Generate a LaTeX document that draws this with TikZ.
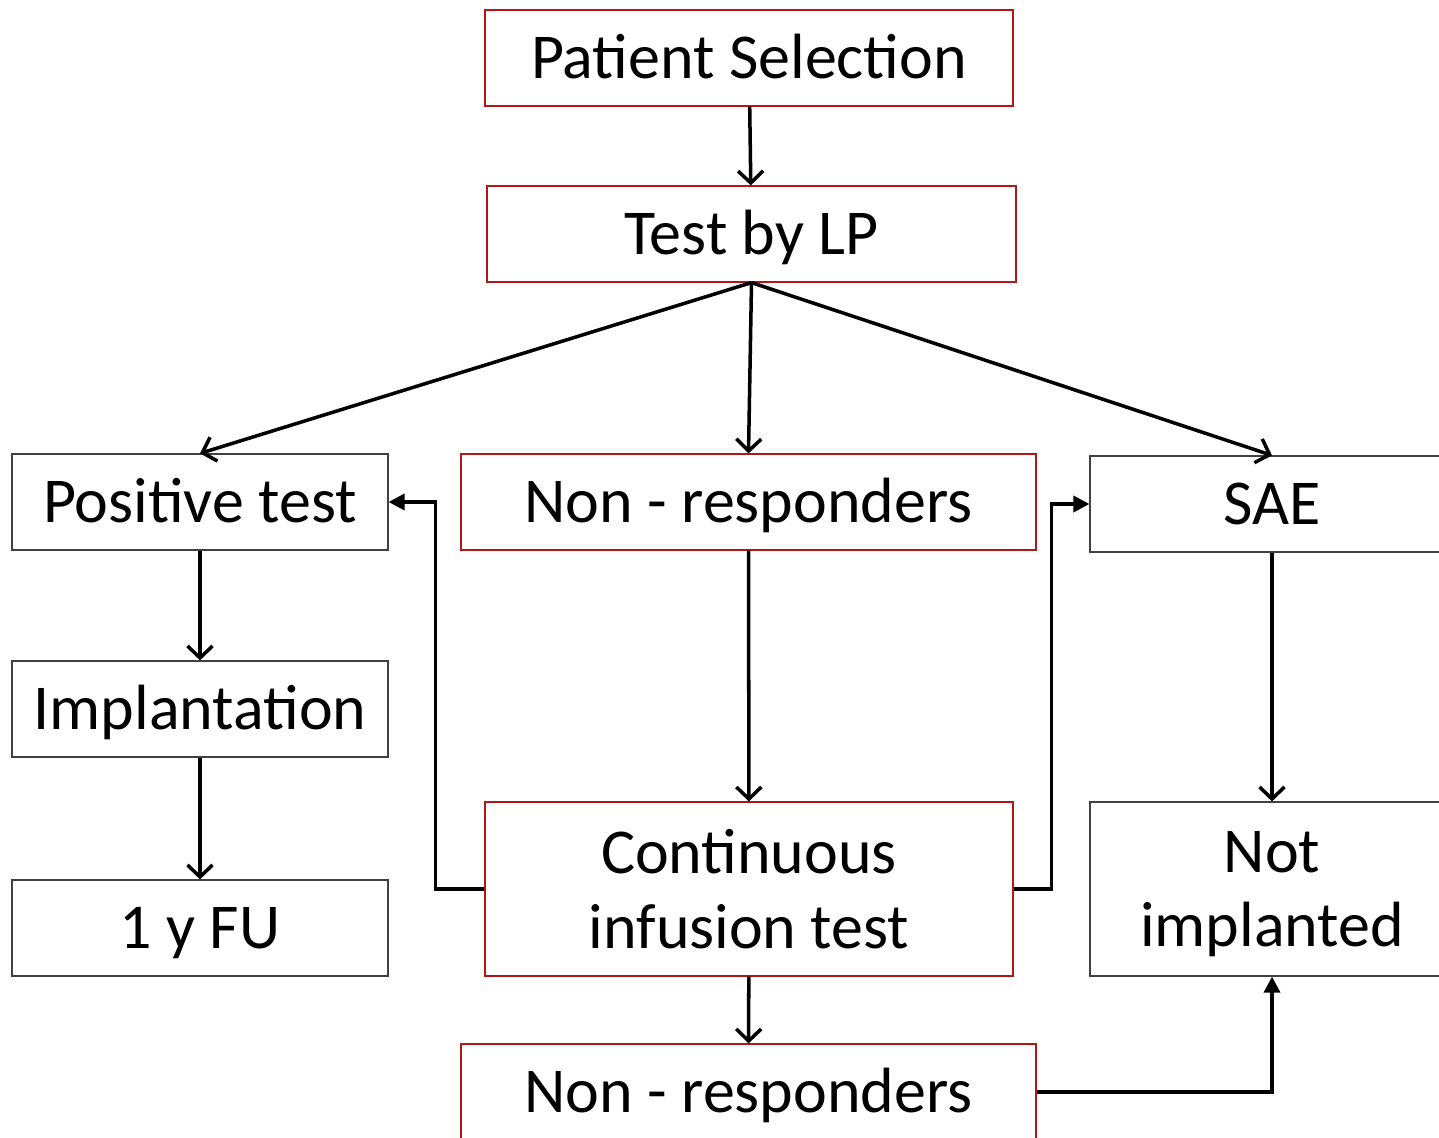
\documentclass[tikz,border=0pt]{standalone}
\usepackage{fontspec}
\setmainfont{Carlito}
\usetikzlibrary{arrows.meta, positioning}

\definecolor{boxred}{RGB}{176,24,24}
\definecolor{boxgray}{RGB}{64,64,64}

\begin{document}
\begin{tikzpicture}[
  x=0.02cm, y=-0.02cm,
  every node/.style={font=\fontsize{36.4}{42.5}\selectfont, inner sep=0pt, fill=white},
  oneline/.style={text height=23.4pt, text depth=0pt},
  twoline/.style={align=center},
  redbox/.style={draw=boxred, line width=0.7pt},
  graybox/.style={draw=boxgray, line width=0.7pt},
  arr/.style={draw, line width=2pt, -{Straight Barb[length=0.24cm, width=0.5cm, line width=2pt]}},
  elb/.style={draw, line width=2pt, -{Triangle[length=0.32cm, width=0.32cm]}}
]
\useasboundingbox (0,0) rectangle (1439,1138);
\clip (0,0) rectangle (1439,1138);

% top of the flow
\node[redbox, oneline, minimum width=10.56cm, minimum height=1.92cm] (select) at (749,58) {Patient Selection};
\node[redbox, oneline, minimum width=10.58cm, minimum height=1.92cm] (lp) at (751.5,234) {Test by LP};

% three outcomes
\node[graybox, oneline, minimum width=7.52cm, minimum height=1.92cm] (positive) at (200,502) {Positive test};
\node[redbox, oneline, minimum width=11.5cm, minimum height=1.92cm] (nonresp) at (748.5,502) {Non - responders};
\node[graybox, oneline, minimum width=7.28cm, minimum height=1.92cm] (sae) at (1272,504) {SAE};

\node[graybox, oneline, minimum width=7.52cm, minimum height=1.92cm] (implant) at (200,709) {Implantation};
\node[graybox, oneline, minimum width=7.52cm, minimum height=1.92cm] (fu) at (200,928) {1 y FU};
\node[redbox, twoline, minimum width=10.56cm, minimum height=3.48cm] (infusion) at (749,889) {Continuous\\infusion test};
\node[graybox, twoline, minimum width=7.28cm, minimum height=3.48cm] (notimpl) at (1272,889) {Not\\\smash{implanted}};
\node[redbox, oneline, minimum width=11.5cm, minimum height=1.92cm] (nonresp2) at (748.5,1092) {Non - responders};

% connectors
\draw[arr] (select) -- (lp);
\draw[arr] (lp.south) -- (positive.north);
\draw[arr] (lp.south) -- (nonresp.north);
\draw[arr] (lp.south) -- (sae.north);
\draw[arr] (positive) -- (implant);
\draw[arr] (implant) -- (fu);
\draw[arr] (nonresp) -- (infusion);
\draw[arr] (sae) -- (notimpl);
\draw[arr] (infusion) -- (nonresp2);

\draw[elb] (infusion.west) -- ++(-49,0) |- (positive.east);
\draw[elb] (infusion.east) -- ++(38,0) |- (sae.west);
\draw[elb] (nonresp2.east) -| (notimpl.south);
\end{tikzpicture}
\end{document}
